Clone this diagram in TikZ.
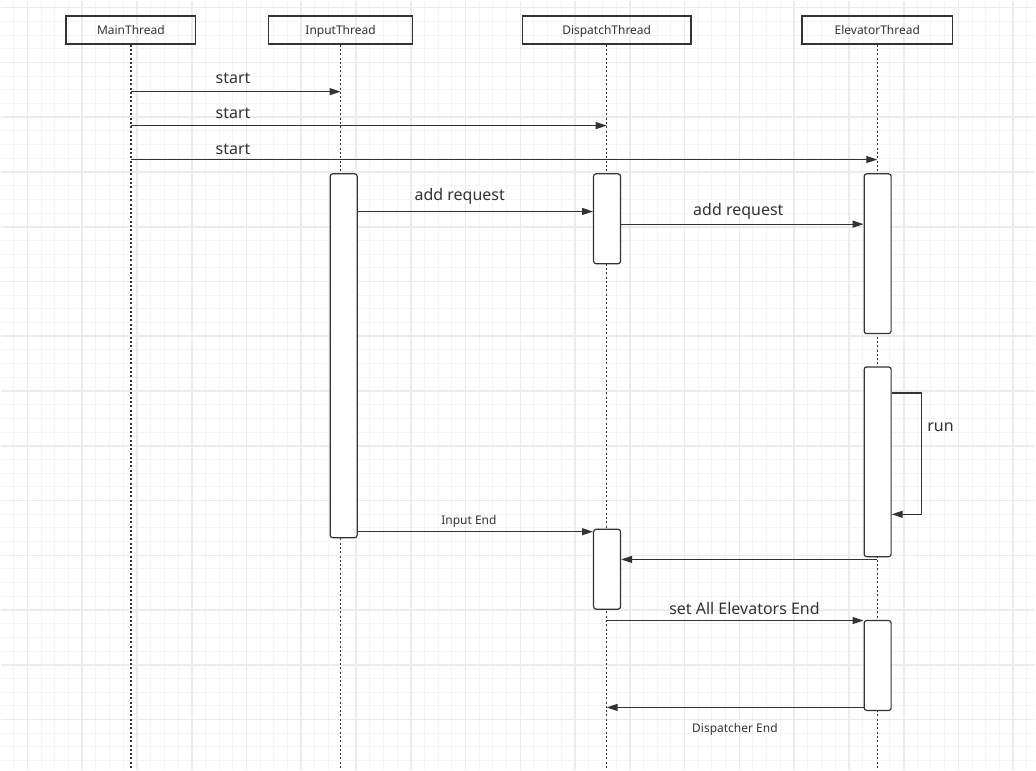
\documentclass[tikz,border=0pt]{standalone}
\usepackage{fontspec}
\setmainfont{Noto Sans}
\usepackage{xcolor}
\usetikzlibrary{positioning,arrows.meta}

\definecolor{ink}{HTML}{333333}
\definecolor{gridminor}{HTML}{F4F4F4}
\definecolor{gridmajor}{HTML}{ECECEC}

\begin{document}
\begin{tikzpicture}[x=1pt,y=-1pt,
  thread/.style={
   draw=ink,
   line width=1.3pt,
   minimum height=28pt,
   inner sep=0pt,
   text height=10pt,
   text depth=1pt,
   text=ink,
   font=\fontsize{12}{14}\selectfont
  },
  life/.style={
    draw=ink,
    line width=1.4pt,
    dash pattern=on 2pt off 2.3pt
  },
  act/.style={
    draw=ink,
    fill=white,
    line width=1.2pt,
    rounded corners=2.5pt,
    minimum width=27pt,
    inner sep=0pt
  },
  msg/.style={
    draw=ink,
    line width=1.2pt,
    -{Triangle[length=11pt,width=7pt]}
  },
  big/.style={text=ink, inner sep=0pt, anchor=base west, font=\fontsize{16}{19}\selectfont},
  small/.style={text=ink, inner sep=0pt, anchor=base west, font=\fontsize{12}{14}\selectfont}]

  % paper + grid
  \fill[white] (0,0) rectangle (1036,770);
  \foreach \i in {0,...,74}
    \draw[gridminor, line width=1pt] ({12.99+13.71*\i},0) -- ++(0,770);
  \foreach \i in {0,...,55}
    \draw[gridminor, line width=1pt] (0,{6.9+13.71*\i}) -- ++(1036,0);
  \foreach \i in {0,...,18}
    \draw[gridmajor, line width=1.6pt] ({26.7+54.85*\i},0) -- ++(0,770);
  \foreach \i in {0,...,13}
    \draw[gridmajor, line width=1.6pt] (0,{6.9+54.85*\i}) -- ++(1036,0);
  \useasboundingbox (0,0) rectangle (1036,770);

  % threads
  \node[thread, minimum width=130pt] at (130.3,29.3) (mainTh) {MainThread};
  \node[thread, minimum width=144pt, right=71.7pt of mainTh] (inputTh) {InputThread};
  \node[thread, minimum width=169pt, right=108.7pt of inputTh] (dispTh) {DispatchThread};
  \node[thread, minimum width=151pt, right=109.7pt of dispTh] (elevTh) {ElevatorThread};

  \foreach \t in {mainTh,inputTh,dispTh,elevTh}
    \draw[life] (\t.south) -- (\t.south |- 0,770);

  % activations
  \node[act, minimum height=364.4pt] at (343.4,355.5) (inAct) {};
  \node[act, minimum height=90pt] at (607.2,218.3) (dispActA) {};
  \node[act, minimum height=80pt] at (607.2,569.3) (dispActB) {};
  \node[act, minimum height=160pt] at (878.2,253.3) (elevActA) {};
  \node[act, minimum height=190pt] at (878.2,461.7) (elevActB) {};
  \node[act, minimum height=90pt] at (878.2,665.7) (elevActC) {};

  % start messages
  \draw[msg] (mainTh |- 0,91) -- (inputTh |- 0,91);
  \draw[msg] (mainTh |- 0,125) -- (dispTh |- 0,125);
  \draw[msg] (mainTh |- 0,159) -- (elevTh |- 0,159);
  \node[big] at (215,82.7) (startA) {start};
  \node[big] at (215,118.3) (startB) {start};
  \node[big] at (215,154) (startC) {start};

  \draw[msg] (inAct.east |- 0,211) -- (dispActA.west |- 0,211);
  \node[big] at (414.3,200) (reqA) {add request};
  \draw[msg] (dispActA.east |- 0,223.7) -- (elevActA.west |- 0,223.7);
  \node[big] at (693.3,215) (reqB) {add request};

  % self call
  \draw[msg] (elevActB.east |- 0,392.7) -- ++(30,0) |- (elevActB.east |- 0,514.3);
  \node[big] at (927.7,431) (runLbl) {run};

  \draw[msg] (inAct.east |- 0,531.7) -- (dispActB.west |- 0,531.7);
  \node[small] at (441,524.3) (inEnd) {Input End};
  \draw[msg] (elevTh |- 0,559.5) -- (dispActB.east |- 0,559.5);
  \draw[msg] (dispTh |- 0,620.7) -- (elevActC.west |- 0,620.7);
  \node[big] at (669.3,614.3) (setEnd) {set All Elevators End};
  \draw[msg] (elevActC.west |- 0,707.7) -- (dispTh |- 0,707.7);
  \node[small] at (692.3,732.7) (dispEnd) {Dispatcher End};
%  \draw[msg] (elevTh |- 0,740) -- (mainTh |- 0,740);

\end{tikzpicture}
\end{document}
